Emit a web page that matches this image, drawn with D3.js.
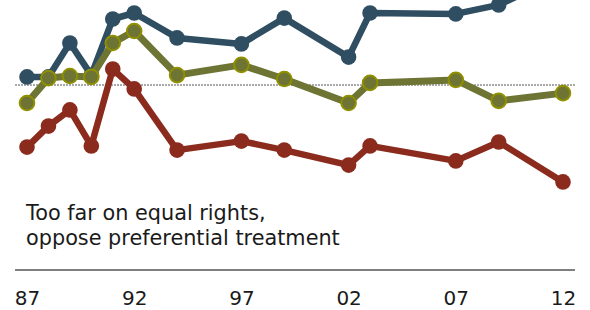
<!DOCTYPE html>
<html><head><meta charset="utf-8">
<script src="https://cdn.jsdelivr.net/npm/d3@7"></script>
<style>html,body{margin:0;padding:0;background:#fff;}svg{display:block;}</style>
</head><body>
<div id="chart"></div>
<script>
const years = [1987,1988,1989,1990,1991,1992,1994,1997,1999,2002,2003,2007,2009,2012];
const blueValues  = [52.7,52.7,64,53.3,72,74,65.7,63.7,72.3,59.3,74,73.7,76.7,86.7];
const oliveValues = [44,52.3,53,52.7,64,68,53.3,56.7,52,44,50.7,51.7,44.7,47.3];
const redValues   = [29.3,36.3,41.7,29.7,55.3,48.7,28.3,31.3,28.3,23.3,29.7,24.7,31,17.7];
const tickYears = [1987,1992,1997,2002,2007,2012];
const refValue = 50;
const labelLines = ["Too far on equal rights,", "oppose preferential treatment"];

const W = 590, H = 310;
const svg = d3.select("#chart").append("svg").attr("width", W).attr("height", H);

const x = d3.scaleLinear().domain([1987, 2012]).range([27, 563]);
const y = d3.scaleLinear().domain([0, 100]).range([235, -65]);

// reference dotted line
svg.append("line")
  .attr("x1", 15).attr("x2", 575)
  .attr("y1", y(refValue)).attr("y2", y(refValue))
  .attr("stroke", "#555").attr("stroke-width", 1).attr("stroke-dasharray", "2,1");

const series = [
  {vals: blueValues, color: "#2f4e62", fill: "#2f4e62", ring: "#2f4e62", w: 6.5, r: 7.8},
  {vals: oliveValues, color: "#6d7434", fill: "#6d7434", ring: "#8f8f00", w: 7, r: 7.3},
  {vals: redValues, color: "#8b2b1e", fill: "#8b2b1e", ring: "#8b2b1e", w: 6.5, r: 7.8}
];

const line = d3.line().x(d => x(d[0])).y(d => y(d[1]));

series.forEach(s => {
  const pts = years.map((yr, i) => [yr, s.vals[i]]);
  const g = svg.append("g");
  g.append("path").datum(pts)
    .attr("d", line).attr("fill", "none")
    .attr("stroke", s.color).attr("stroke-width", s.w)
    .attr("stroke-linejoin", "round");
  g.selectAll("circle").data(pts).join("circle")
    .attr("cx", d => x(d[0])).attr("cy", d => y(d[1]))
    .attr("r", s.r).attr("fill", s.fill)
    .attr("stroke", s.ring).attr("stroke-width", s.ring === s.fill ? 0 : 2);
});

// label
const lbl = svg.append("text")
  .attr("font-family", "DejaVu Sans, Verdana, sans-serif")
  .attr("font-size", 20.8).attr("fill", "#1a1a1a");
labelLines.forEach((t, i) => {
  lbl.append("tspan").attr("x", 26).attr("y", 220 + i * 25).text(t);
});

// x axis
const axis = d3.axisBottom(x).tickValues(tickYears)
  .tickFormat(d => String(d).slice(2)).tickSize(0).tickPadding(21);
const ag = svg.append("g").attr("transform", "translate(0,270)").call(axis);
ag.select(".domain").remove();
ag.append("line").attr("x1", 15).attr("x2", 575).attr("y1", 0).attr("y2", 0)
  .attr("stroke", "#000").attr("stroke-width", 1);
ag.selectAll("text")
  .attr("font-family", "DejaVu Sans, Verdana, sans-serif")
  .attr("font-size", 20).attr("fill", "#1a1a1a");
</script>
</body></html>
